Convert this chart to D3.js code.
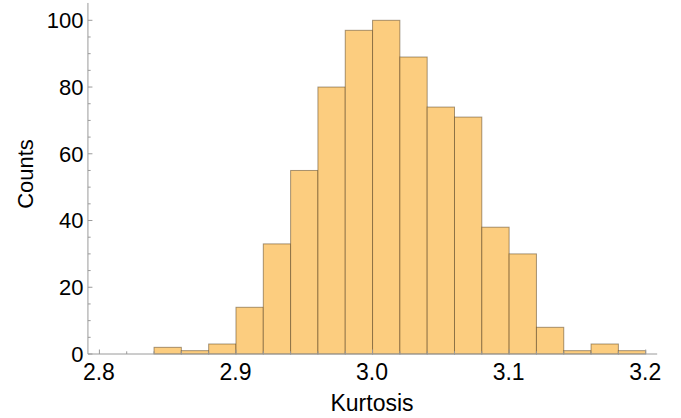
<!DOCTYPE html>
<html>
<head>
<meta charset="utf-8">
<script src="https://cdn.jsdelivr.net/npm/d3@7"></script>
<style>
  html, body { margin: 0; padding: 0; background: #fff; }
  svg { display: block; }
  text { font-family: "Liberation Sans", Arial, sans-serif; fill: #000; }
</style>
</head>
<body>
<script>
// Data
const binStarts = [2.84, 2.86, 2.88, 2.90, 2.92, 2.94, 2.96, 2.98, 3.00, 3.02, 3.04, 3.06, 3.08, 3.10, 3.12, 3.14, 3.16, 3.18];
const binWidth = 0.02;
const counts = [2, 1, 3, 14, 33, 55, 80, 97, 100, 89, 74, 71, 38, 30, 8, 1, 3, 1];
const xTicks = [2.8, 2.9, 3.0, 3.1, 3.2];
const xTickLabels = ["2.8", "2.9", "3.0", "3.1", "3.2"];
const yTicks = [0, 20, 40, 60, 80, 100];
const xLabel = "Kurtosis";
const yLabel = "Counts";

const W = 681, H = 418;
const svg = d3.select("body").append("svg").attr("width", W).attr("height", H);

const x = d3.scaleLinear().domain([2.8, 3.2]).range([99.4, 645.7]);
const y = d3.scaleLinear().domain([0, 100]).range([354, 20.3]);
const xMin = 2.7916, xMax = 3.2084, yMax = 105.2;

const axisColor = "#9a9a9a";

// Bars
const bars = binStarts.map((s, i) => ({ x0: s, x1: s + binWidth, c: counts[i] }));
svg.append("g").selectAll("rect").data(bars).join("rect")
  .attr("x", d => x(d.x0))
  .attr("y", d => y(d.c))
  .attr("width", d => x(d.x1) - x(d.x0))
  .attr("height", d => y(0) - y(d.c))
  .attr("fill", "#fccd7f")
  .attr("stroke", "rgba(60,40,10,0.45)")
  .attr("stroke-width", 1);

// Axes lines
const g = svg.append("g");
g.append("line").attr("x1", x(xMin)).attr("x2", x(xMax)).attr("y1", y(0)).attr("y2", y(0))
  .attr("stroke", axisColor).attr("stroke-width", 1);
g.append("line").attr("x1", x(xMin)).attr("x2", x(xMin)).attr("y1", y(0)).attr("y2", y(yMax))
  .attr("stroke", axisColor).attr("stroke-width", 1);

// X ticks
const xMinor = d3.range(0, 21).map(i => +(2.8 + i * 0.02).toFixed(2));
g.selectAll(".xm").data(xMinor).join("line")
  .attr("x1", d => x(d)).attr("x2", d => x(d))
  .attr("y1", y(0)).attr("y2", d => y(0) - (xTicks.some(t => Math.abs(t - d) < 1e-9) ? 4.5 : 2.7))
  .attr("stroke", axisColor).attr("stroke-width", 1);
g.selectAll(".xl").data(xTicks).join("text")
  .attr("x", d => x(d) - 0.5).attr("y", 380)
  .attr("text-anchor", "middle")
  .attr("font-size", 23)
  .text((d, i) => xTickLabels[i]);

// Y ticks
const yMinor = d3.range(0, 21).map(i => i * 5).filter(v => v <= yMax);
g.selectAll(".ym").data(yMinor).join("line")
  .attr("x1", x(xMin)).attr("x2", d => x(xMin) + (d % 20 === 0 ? 4.5 : 2.7))
  .attr("y1", d => y(d)).attr("y2", d => y(d))
  .attr("stroke", axisColor).attr("stroke-width", 1);
g.selectAll(".yl").data(yTicks).join("text")
  .attr("x", 83.5).attr("y", d => y(d))
  .attr("dy", "0.36em")
  .attr("text-anchor", "end")
  .attr("font-size", 22)
  .text(d => d);

// Axis labels
svg.append("text").attr("x", 372).attr("y", 411).attr("text-anchor", "middle")
  .attr("font-size", 23).text(xLabel);
svg.append("text").attr("transform", "translate(33,174) rotate(-90)")
  .attr("text-anchor", "middle").attr("font-size", 22).text(yLabel);
</script>
</body>
</html>
